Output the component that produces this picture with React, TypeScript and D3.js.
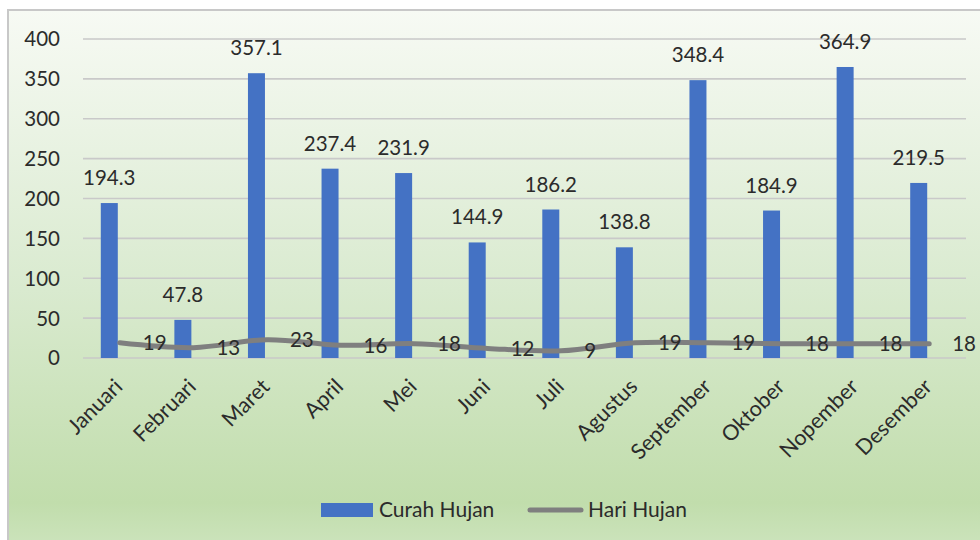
import React, { useRef, useEffect } from 'react';
import * as d3 from 'd3';

const bulan = ['Januari', 'Februari', 'Maret', 'April', 'Mei', 'Juni', 'Juli', 'Agustus', 'September', 'Oktober', 'Nopember', 'Desember'];
const curahHujan = [194.3, 47.8, 357.1, 237.4, 231.9, 144.9, 186.2, 138.8, 348.4, 184.9, 364.9, 219.5];
const hariHujan = [19, 13, 23, 16, 18, 12, 9, 19, 19, 18, 18, 18];
const yTicks = [0, 50, 100, 150, 200, 250, 300, 350, 400];

const FONT = 'Lato, "Open Sans", sans-serif';
const TEXT = '#2b2b2b';

const App: React.FC = () => {
	const svgRef = useRef<SVGSVGElement | null>(null);

	useEffect(() => {
		const svg = d3.select(svgRef.current);
		svg.selectAll('*').remove();

		const width = 980;
		const height = 540;

		// background gradient (Excel style)
		const defs = svg.append('defs');
		const grad = defs
			.append('linearGradient')
			.attr('id', 'bg')
			.attr('x1', 0)
			.attr('y1', 0)
			.attr('x2', 0)
			.attr('y2', 1);
		grad.append('stop').attr('offset', '0%').attr('stop-color', '#f7faf4');
		grad.append('stop').attr('offset', '50%').attr('stop-color', '#d9eacf');
		grad.append('stop').attr('offset', '88%').attr('stop-color', '#c1ddac');
		grad.append('stop').attr('offset', '100%').attr('stop-color', '#d2e7c5');

		svg.append('rect')
			.attr('x', 0)
			.attr('y', 0)
			.attr('width', width)
			.attr('height', height)
			.attr('fill', '#ffffff');

		svg.append('rect')
			.attr('x', 8)
			.attr('y', 10)
			.attr('width', 990)
			.attr('height', 560)
			.attr('fill', 'url(#bg)')
			.attr('stroke', '#c8c8c8')
			.attr('stroke-width', 2);

		const x = d3.scaleBand<string>().domain(bulan).range([83, 966]).padding(0);
		const y = d3.scaleLinear().domain([0, 400]).range([358, 39]);

		// gridlines
		svg.append('g')
			.selectAll('line')
			.data(yTicks)
			.join('line')
			.attr('x1', 83)
			.attr('x2', 966)
			.attr('y1', (d) => y(d))
			.attr('y2', (d) => y(d))
			.attr('stroke', '#c9c9c9')
			.attr('stroke-width', 1.6);

		// y tick labels
		svg.append('g')
			.selectAll('text')
			.data(yTicks)
			.join('text')
			.attr('x', 60)
			.attr('y', (d) => y(d))
			.attr('dy', '0.36em')
			.attr('text-anchor', 'end')
			.attr('font-family', FONT)
			.attr('font-size', 20.5)
			.attr('fill', TEXT)
			.text((d) => d);

		const cx = (m: string) => (x(m) as number) + x.bandwidth() / 2;
		const barW = 17;
		const barOff = -10.5;

		// bars
		svg.append('g')
			.selectAll('rect')
			.data(curahHujan)
			.join('rect')
			.attr('x', (d, i) => cx(bulan[i]) + barOff - barW / 2)
			.attr('y', (d) => y(d))
			.attr('width', barW)
			.attr('height', (d) => y(0) - y(d))
			.attr('fill', '#4472c4');

		// bar labels
		svg.append('g')
			.selectAll('text')
			.data(curahHujan)
			.join('text')
			.attr('x', (d, i) => cx(bulan[i]) + barOff)
			.attr('y', (d) => y(d) - 18)
			.attr('text-anchor', 'middle')
			.attr('font-family', FONT)
			.attr('font-size', 20.5)
			.attr('fill', TEXT)
			.text((d) => d.toFixed(1));

		// line
		const line = d3
			.line<number>()
			.x((d, i) => cx(bulan[i]))
			.y((d) => y(d))
			.curve(d3.curveCatmullRom.alpha(0.5));

		svg.append('path')
			.datum(hariHujan)
			.attr('d', line)
			.attr('fill', 'none')
			.attr('stroke', '#7f7f7f')
			.attr('stroke-width', 5)
			.attr('stroke-linecap', 'round')
			.attr('stroke-linejoin', 'round');

		// line labels
		svg.append('g')
			.selectAll('text')
			.data(hariHujan)
			.join('text')
			.attr('x', (d, i) => cx(bulan[i]) + 23)
			.attr('y', (d) => y(d))
			.attr('dy', '0.36em')
			.attr('font-family', FONT)
			.attr('font-size', 20.5)
			.attr('fill', TEXT)
			.text((d) => d);

		// x labels
		svg.append('g')
			.selectAll('text')
			.data(bulan)
			.join('text')
			.attr('transform', (d) => `translate(${cx(d) + 4},${388}) rotate(-45)`)
			.attr('text-anchor', 'end')
			.attr('font-family', FONT)
			.attr('font-size', 21.5)
			.attr('fill', TEXT)
			.text((d) => d);

		// legend
		const lg = svg.append('g');
		lg.append('rect')
			.attr('x', 321)
			.attr('y', 503)
			.attr('width', 52)
			.attr('height', 14)
			.attr('fill', '#4472c4');
		lg.append('text')
			.attr('x', 379)
			.attr('y', 517)
			.attr('font-family', FONT)
			.attr('font-size', 21)
			.attr('fill', TEXT)
			.text('Curah Hujan');
		lg.append('line')
			.attr('x1', 530)
			.attr('x2', 581)
			.attr('y1', 510)
			.attr('y2', 510)
			.attr('stroke', '#7f7f7f')
			.attr('stroke-width', 5)
			.attr('stroke-linecap', 'round');
		lg.append('text')
			.attr('x', 588)
			.attr('y', 517)
			.attr('font-family', FONT)
			.attr('font-size', 21)
			.attr('fill', TEXT)
			.text('Hari Hujan');
	}, []);

	return (
		<svg
			ref={svgRef}
			width={980}
			height={540}
			style={{ position: 'absolute', left: 0, top: 0 }}
		/>
	);
};

export default App;
